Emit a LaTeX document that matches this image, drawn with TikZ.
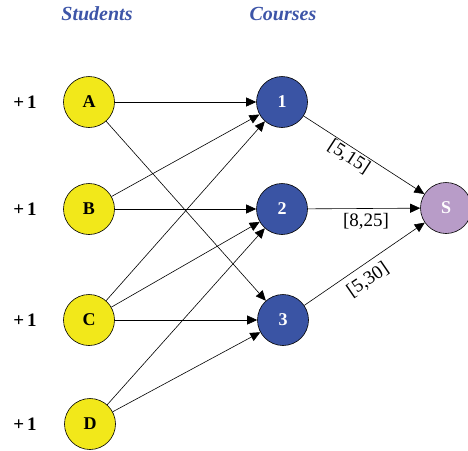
\documentclass[tikz,border=0pt]{standalone}
\usepackage{fontspec}
\setmainfont{Liberation Serif}
\usetikzlibrary{arrows.meta}
\definecolor{stuY}{HTML}{F2E81A}
\definecolor{crsB}{HTML}{3A54A4}
\definecolor{sinkP}{HTML}{B89CC8}
\definecolor{hdrB}{HTML}{3D55A8}
\begin{document}
\begin{tikzpicture}[x=1pt,y=-1pt,
  circ/.style={circle,draw=black,line width=0.6pt,minimum size=51pt,inner sep=0pt,font=\fontsize{18}{18}\selectfont\bfseries},
  stu/.style={circ,fill=stuY,text=black},
  crs/.style={circ,fill=crsB,text=white},
  snk/.style={circ,fill=sinkP,text=white},
  hdr/.style={font=\fontsize{20}{20}\selectfont\bfseries\itshape,text=hdrB},
  plus/.style={font=\fontsize{19}{19}\selectfont\bfseries},
  edge/.style={line width=0.6pt,-{Triangle[length=10pt,width=9pt]}},
  lab/.style={font=\fontsize{19}{19}\selectfont,inner sep=0pt}]
\useasboundingbox (0,0) rectangle (468,450);
\node[hdr] (hs) at (97,14) {Students};
\node[hdr] (hc) at (283,14) {Courses};
\node[stu] (A) at (89,102) {A};
\node[stu] (B) at (89,209) {B};
\node[stu] (C) at (89,320) {C};
\node[stu] (D) at (90,424) {D};
\node[plus] (pA) at (25,102) {+\,1};
\node[plus] (pB) at (25,209) {+\,1};
\node[plus] (pC) at (25,320) {+\,1};
\node[plus] (pD) at (25,424) {+\,1};
\node[crs] (c1) at (282,102) {1};
\node[crs] (c2) at (282,209) {2};
\node[crs] (c3) at (283,320) {3};
\node[snk] (S) at (446,208) {S};
\draw[edge] (A) -- (c1);
\draw[edge] (A) -- (c3);
\draw[edge] (B) -- (c1);
\draw[edge] (B) -- (c2);
\draw[edge] (C) -- (c1);
\draw[edge] (C) -- (c2);
\draw[edge] (C) -- (c3);
\draw[edge] (D) -- (c2);
\draw[edge] (D) -- (c3);
\draw[edge] (c1) -- (S);
\draw[edge] (c2) -- (S);
\draw[edge] (c3) -- (S);
\node[lab,rotate=-33] (l1) at (349,157) {[5,15]};
\node[lab] (l2) at (366,221) {[8,25]};
\node[lab,rotate=34.5] (l3) at (368,280) {[5,30]};
\end{tikzpicture}
\end{document}
